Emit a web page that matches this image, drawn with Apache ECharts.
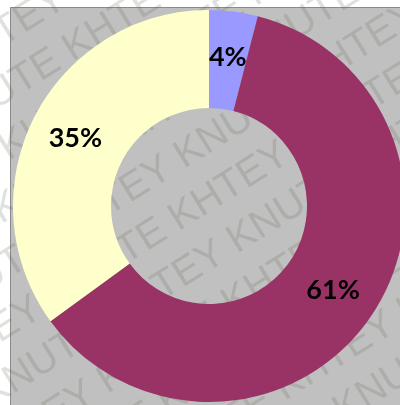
<!DOCTYPE html>
<html>
<head>
<meta charset="utf-8">
<style>
  html, body { margin: 0; padding: 0; background: #ffffff; }
  #chart { width: 400px; height: 405px; }
</style>
<script src="https://cdn.jsdelivr.net/npm/echarts@6/dist/echarts.min.js"></script>
</head>
<body>
<div id="chart"></div>
<script>
// Share of each group, drawn clockwise from twelve o'clock
const categories = ['A', 'B', 'C'];
const shares = [4, 61, 35];
const sliceColors = ['#9999ff', '#993366', '#ffffcc'];

// Repeating diagonal stamp text laid over the plot
const stampWords = ['KNUTE KHTEY KNUTE KHTEY KNUTE KHTEY KNUTE KHTEY',
                    'KHTEY KNUTE KHTEY KNUTE KHTEY KNUTE KHTEY KNUTE'];

const chart = echarts.init(document.getElementById('chart'), null, { renderer: 'canvas' });

const stampRows = [];
for (let i = -6; i <= 6; i++) {
  const odd = ((i % 2) + 2) % 2;
  stampRows.push({
    type: 'text',
    x: -470 + odd * 40,
    y: i * 50,
    style: {
      text: stampWords[odd],
      font: '40px "Liberation Sans", "DejaVu Sans", sans-serif',
      fill: 'rgba(100, 100, 80, 0.2)',
      textVerticalAlign: 'middle'
    },
    silent: true
  });
}

chart.setOption({
  backgroundColor: '#ffffff',
  animation: false,
  graphic: [
    {
      type: 'rect',
      z: -10,
      shape: { x: 10.5, y: 7.5, width: 420, height: 420 },
      style: { fill: '#c0c0c0', stroke: '#8a8a8a', lineWidth: 1 },
      silent: true
    },
    {
      type: 'group',
      x: 200,
      y: 205,
      rotation: 32 * Math.PI / 180,
      z: 100,
      silent: true,
      children: stampRows
    }
  ],
  series: [{
    type: 'pie',
    center: [209, 206],
    radius: [98, 196],
    startAngle: 90,
    clockwise: true,
    avoidLabelOverlap: false,
    silent: true,
    itemStyle: { borderWidth: 0 },
    label: {
      show: true,
      position: 'inside',
      formatter: function (p) { return p.value + '%'; },
      color: '#000000',
      fontFamily: 'Lato, "Noto Sans", sans-serif',
      fontWeight: 'bold',
      fontSize: 27
    },
    labelLine: { show: false },
    data: categories.map(function (c, i) {
      return { name: c, value: shares[i], itemStyle: { color: sliceColors[i] } };
    })
  }]
});
</script>
</body>
</html>
